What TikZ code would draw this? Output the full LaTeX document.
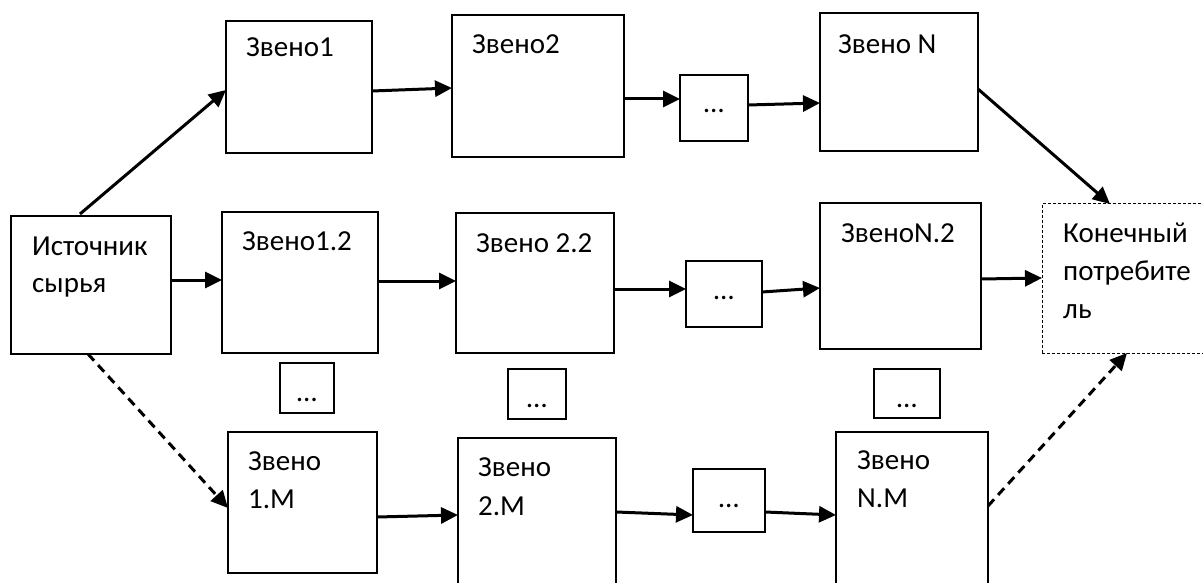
\documentclass[tikz,border=0pt]{standalone}
\usepackage{fontspec}
\setmainfont{Carlito}
\usetikzlibrary{arrows.meta,calc}
\begin{document}
\begin{tikzpicture}[x=1pt,y=-1pt,
  box/.style={draw=black,line width=1.3pt,fill=white,rectangle,inner sep=0pt,outer sep=0pt,anchor=north west},
  dbox/.style={box,dash pattern=on 3pt off 2pt,line width=1pt},
  arr/.style={line width=3pt,-{Triangle[length=17pt,width=16pt]}},
  darr/.style={arr,dash pattern=on 9pt off 6pt},
  lbl/.style={anchor=base west,inner sep=0pt,font=\fontsize{29}{37}\selectfont},
  dots/.style={anchor=base,inner sep=0pt,font=\fontsize{29}{37}\selectfont}]
\useasboundingbox (0,0) rectangle (1203,583);
% boxes
\node[box,minimum width=160,minimum height=138] (src) at (11,216) {};
\node[box,minimum width=146,minimum height=132] (z1) at (226,21) {};
\node[box,minimum width=172,minimum height=142] (z2) at (452,15) {};
\node[box,minimum width=68,minimum height=66] (d1) at (680,75) {};
\node[box,minimum width=158,minimum height=138] (zN) at (820,13) {};
\node[dbox,minimum width=170,minimum height=149] (cons) at (1042,204) {};
\node[box,minimum width=156,minimum height=141] (z12) at (222,212) {};
\node[box,minimum width=158,minimum height=140] (z22) at (456,213) {};
\node[box,minimum width=76,minimum height=66] (d2) at (686,261) {};
\node[box,minimum width=161,minimum height=146] (zN2) at (820,203) {};
\node[box,minimum width=54,minimum height=50] (dd1) at (280,363) {};
\node[box,minimum width=58,minimum height=50] (dd2) at (508,369) {};
\node[box,minimum width=66,minimum height=49] (dd3) at (874,369) {};
\node[box,minimum width=149,minimum height=141] (z1M) at (228,432) {};
\node[box,minimum width=158,minimum height=160] (z2M) at (458,438) {};
\node[box,minimum width=72,minimum height=63] (d3) at (693,469) {};
\node[box,minimum width=152,minimum height=160] (zNM) at (836,432) {};
% texts
\node[lbl] (t1) at (32,255) {Источник};
\node[lbl] (t2) at (32,292) {сырья};
\node[lbl] (t3) at (246,57) {Звено1};
\node[lbl] (t4) at (472,54) {Звено2};
\node[lbl] (t5) at (838,54) {Звено N};
\node[lbl] (t6) at (242,250) {Звено1.2};
\node[lbl] (t7) at (476,252) {Звено 2.2};
\node[lbl] (t8) at (841,242) {ЗвеноN.2};
\node[lbl] (t9) at (1063,242) {Конечный};
\node[lbl] (t10) at (1063,280) {потребите};
\node[lbl] (t11) at (1063,318) {ль};
\node[lbl] (t12) at (248,470) {Звено};
\node[lbl] (t13) at (248,508) {1.М};
\node[lbl] (t14) at (478,476) {Звено};
\node[lbl] (t15) at (478,515) {2.М};
\node[lbl] (t16) at (857,469) {Звено};
\node[lbl] (t17) at (857,507) {N.M};
\foreach \d in {d1,d2,d3,dd1,dd2,dd3}{
  \node[dots] (\d t) at ($(\d.north)+(0,38)$) {…};
}
% arrows
\draw[arr] ($(src.north west)+(69,-2)$) -- ($(z1.north west)+(0,69)$);
\draw[arr] ($(z1.north east)+(0,70)$) -- ($(z2.north west)+(0,73)$);
\draw[arr] ($(z2.north east)+(0,84)$) -- ($(d1.north west)+(0,24)$);
\draw[arr] ($(d1.north east)+(0,30)$) -- ($(zN.north west)+(0,90)$);
\draw[arr] ($(zN.north east)+(0,76)$) -- ($(cons.north west)+(68,0)$);
\draw[arr] ($(src.north east)+(0,64)$) -- ($(z12.north west)+(0,68)$);
\draw[arr] ($(z12.north east)+(0,69)$) -- ($(z22.north west)+(0,68)$);
\draw[arr] ($(z22.north east)+(0,76)$) -- ($(d2.north west)+(0,28)$);
\draw[arr] ($(d2.north east)+(0,31)$) -- ($(zN2.north west)+(0,85)$);
\draw[arr] ($(zN2.north east)+(0,76)$) -- ($(cons.north west)+(0,74)$);
\draw[darr] ($(src.south west)+(77,0)$) -- ($(z1M.north west)+(0,76)$);
\draw[arr] ($(z1M.north east)+(0,85)$) -- ($(z2M.north west)+(0,77)$);
\draw[arr] ($(z2M.north east)+(0,74)$) -- ($(d3.north west)+(0,46)$);
\draw[arr] ($(d3.north east)+(0,43)$) -- ($(zNM.north west)+(0,83)$);
\draw[darr] ($(zNM.north east)+(0,74)$) -- ($(cons.south west)+(85,0)$);
\end{tikzpicture}
\end{document}
